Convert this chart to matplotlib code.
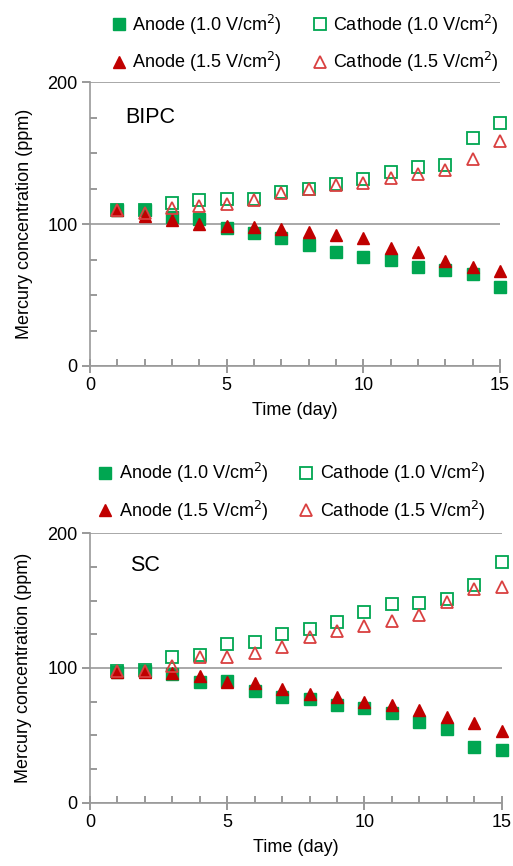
import matplotlib.pyplot as plt
from matplotlib.ticker import MultipleLocator

plt.rcParams['font.family'] = ['Liberation Sans', 'DejaVu Sans']

days = list(range(1, 16))

# BIPC panel
bipc_anode_10 = [109.7, 110, 105.4, 104, 97.6, 94, 90.6, 85, 80.4, 76.9, 74.8, 70, 67.7, 64.6, 55.4]
bipc_anode_15 = [109.7, 106, 103, 100.2, 98.8, 97.9, 96.5, 94.3, 92.5, 90, 83.5, 80.2, 74.3, 69.6, 67.2]
bipc_cath_10 = [110, 110, 114.9, 117, 118, 118, 122.6, 125, 128.3, 131.6, 137, 140.3, 141.5, 160.8, 171.5]
bipc_cath_15 = [110, 108, 111.3, 112.5, 114.4, 117.2, 122, 124.8, 127.4, 129, 132.5, 135.6, 138, 146, 158.5]

# SC panel
sc_anode_10 = [97.3, 97.8, 95.5, 89.9, 90.3, 83.2, 78.7, 77.2, 72.5, 70, 66.3, 59.7, 54.5, 41.6, 39.1]
sc_anode_15 = [97.3, 97.3, 96, 94, 89.9, 88.6, 84.4, 80.7, 78.2, 74.5, 72.3, 68.8, 63.9, 59.4, 53.5]
sc_cath_10 = [98, 98.5, 107.9, 109.9, 117.8, 119, 125, 128.7, 134.4, 141.8, 147.3, 148.5, 151, 161.6, 178.5]
sc_cath_15 = [97.5, 98, 101.7, 108, 108, 111.4, 115.8, 122.8, 127.7, 131.2, 134.9, 139.4, 148.8, 158.4, 160.4]

labels = ['Anode (1.0 V/cm$^2$)', 'Anode (1.5 V/cm$^2$)',
          'Cathode (1.0 V/cm$^2$)', 'Cathode (1.5 V/cm$^2$)']

green = '#00a651'
red = '#c00000'
lred = '#d94040'

fig = plt.figure(figsize=(5.13, 8.66), dpi=100)
ax1 = fig.add_axes([0.1754, 0.5774, 0.7992, 0.3274])
ax2 = fig.add_axes([0.1754, 0.0731, 0.8025, 0.3111])


def draw(ax, a10, a15, c10, c15, name, nx, ny):
    ax.set_axisbelow(True)
    h1 = ax.plot(days, a10, 's', color=green, ms=8.5, ls='none', clip_on=False)[0]
    h3 = ax.plot(days, c10, 's', mfc='none', mec=green, mew=1.3, ms=8.5, ls='none', clip_on=False)[0]
    h2 = ax.plot(days, a15, '^', color=red, ms=8.5, ls='none', clip_on=False)[0]
    h4 = ax.plot(days, c15, '^', mfc='none', mec=lred, mew=1.3, ms=8.5, ls='none', clip_on=False)[0]
    ax.set_xlim(0, 15)
    ax.set_ylim(0, 200)
    ax.xaxis.set_major_locator(MultipleLocator(5))
    ax.xaxis.set_minor_locator(MultipleLocator(1))
    ax.yaxis.set_major_locator(MultipleLocator(100))
    ax.yaxis.set_minor_locator(MultipleLocator(25))
    ax.tick_params(which='both', colors='#888888', labelcolor='black', labelsize=13, width=1.2)
    ax.tick_params(which='minor', direction='in', length=5)
    ax.tick_params(axis='y', which='major', direction='out', length=6, pad=3)
    ax.tick_params(axis='x', which='major', direction='inout', length=10, pad=3)
    ax.grid(axis='y', which='major', color='#999999', lw=1.2)
    for s in ['top', 'right']:
        ax.spines[s].set_visible(False)
    for s in ['left', 'bottom']:
        ax.spines[s].set_color('#999999')
        ax.spines[s].set_linewidth(1.2)
    ax.set_xlabel('Time (day)', fontsize=13, labelpad=6)
    ax.set_ylabel('Mercury concentration (ppm)', fontsize=13)
    ax.yaxis.set_label_coords(-0.14, 0.5)
    ax.text(nx, ny, name, fontsize=15.5, va='center')
    return [h1, h2, h3, h4]


leg_kw = dict(ncol=2, loc='center', frameon=False, fontsize=13, handletextpad=0.25,
              columnspacing=1.6, labelspacing=0.75, handlelength=1.0, markerscale=0.95)

hs = draw(ax1, bipc_anode_10, bipc_anode_15, bipc_cath_10, bipc_cath_15, 'BIPC', 1.3, 175)
fig.legend(hs, labels, bbox_to_anchor=(0.593, 0.95), **leg_kw)

hs = draw(ax2, sc_anode_10, sc_anode_15, sc_cath_10, sc_cath_15, 'SC', 1.45, 176)
fig.legend(hs, labels, bbox_to_anchor=(0.567, 0.432), **leg_kw)

fig.savefig('out.png', dpi=100)
